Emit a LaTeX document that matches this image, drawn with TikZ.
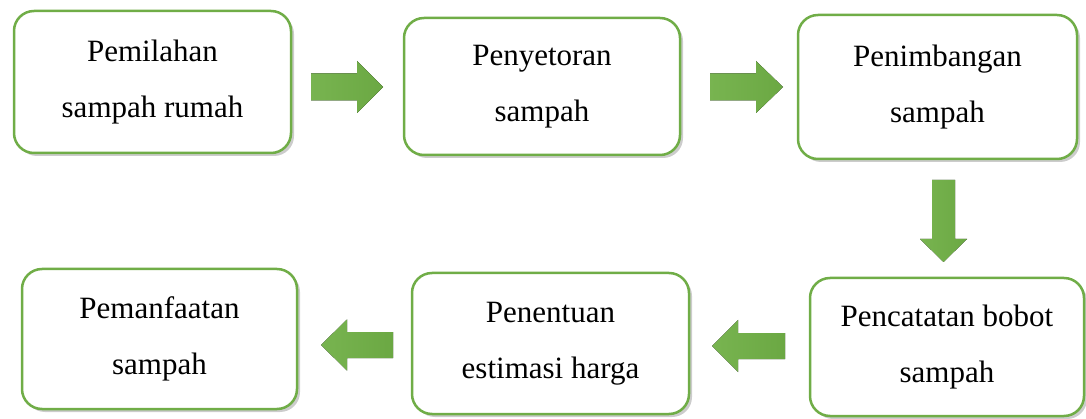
\documentclass[tikz,border=0pt]{standalone}
\usepackage{fontspec}
\setmainfont{Liberation Serif}
\usetikzlibrary{shadows}
\definecolor{grn}{HTML}{70AD47}
\definecolor{grnlight}{HTML}{78B450}
\definecolor{grndark}{HTML}{6BA843}
\tikzset{
  box/.style={draw=grn, line width=2.5pt, fill=white, rounded corners=20pt,
    align=center, font=\fontsize{31}{56}\selectfont,
    drop shadow={opacity=0.4, shadow xshift=3pt, shadow yshift=-3pt}},
  blockarrow/.style={left color=grnlight, right color=grndark, draw=none}
}
\begin{document}
\begin{tikzpicture}[x=1pt,y=-1pt]
\useasboundingbox (0,0) rectangle (1086,419);
% boxes
\node[box, minimum width=277pt, minimum height=142pt] (b1) at (152.5,82) {Pemilahan\\sampah rumah};
\node[box, minimum width=276pt, minimum height=137pt] (b2) at (542,86.5) {Penyetoran\\sampah};
\node[box, minimum width=279pt, minimum height=144pt] (b3) at (937.5,87) {Penimbangan\\sampah};
\node[box, minimum width=274pt, minimum height=138pt] (b4) at (947,347) {Pencatatan bobot\\sampah};
\node[box, minimum width=277pt, minimum height=141pt] (b5) at (550.5,343.5) {Penentuan\\estimasi harga};
\node[box, minimum width=275pt, minimum height=140pt] (b6) at (159.5,339) {Pemanfaatan\\sampah};
% arrows
\coordinate (a1) at (311,87);
\fill[blockarrow] (a1) ++(0,-13.5) -- ++(46,0) -- ++(0,-12.5) -- ++(26,26) -- ++(-26,26) -- ++(0,-12.5) -- ++(-46,0) -- cycle;
\coordinate (a2) at (710,87);
\fill[blockarrow] (a2) ++(0,-13.5) -- ++(46,0) -- ++(0,-12.5) -- ++(27,26) -- ++(-27,26) -- ++(0,-12.5) -- ++(-46,0) -- cycle;
\coordinate (a3) at (943.5,180);
\fill[blockarrow] (a3) ++(-11.5,0) -- ++(0,59) -- ++(-12,0) -- ++(23.5,23) -- ++(23.5,-23) -- ++(-12,0) -- ++(0,-59) -- cycle;
\coordinate (a4) at (785,346);
\fill[blockarrow] (a4) ++(0,-13) -- ++(-47,0) -- ++(0,-13) -- ++(-26,26) -- ++(26,26) -- ++(0,-13) -- ++(47,0) -- cycle;
\coordinate (a5) at (393,345);
\fill[blockarrow] (a5) ++(0,-13) -- ++(-46,0) -- ++(0,-12.5) -- ++(-26,25.5) -- ++(26,25.5) -- ++(0,-12.5) -- ++(46,0) -- cycle;
\end{tikzpicture}
\end{document}
